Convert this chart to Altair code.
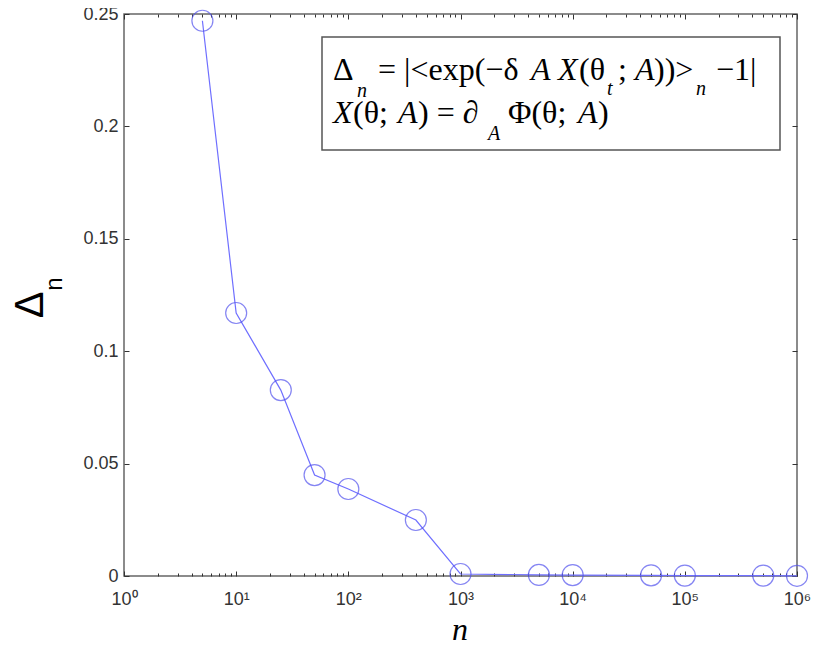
import altair as alt
import pandas as pd

# ---- data ----
n_values = [5, 10, 25, 50, 100, 400, 1000, 5000, 10000, 50000, 100000, 500000, 1000000]
delta_values = [0.247, 0.117, 0.0827, 0.0449, 0.0387, 0.0249, 0.0009,
                0.0005, 0.0004, 0.0003, 0.0002, 0.0002, 0.0001]

x_major = [1, 10, 100, 1000, 10000, 100000, 1000000]
x_major_labels = ["10⁰", "10¹", "10²", "10³", "10⁴", "10⁵", "10⁶"]
x_minor_mult = [2, 3, 4, 5, 6, 7, 8, 9]
y_ticks = [0, 0.05, 0.1, 0.15, 0.2, 0.25]

x_ticks = sorted(set(x_major + [m * d for d in x_major[:-1] for m in x_minor_mult]))

df = pd.DataFrame({"n": n_values, "delta": delta_values})
one = pd.DataFrame({"a": [0]})

W, H = 673, 562
OX, OY = 124, 14  # page position of plot origin

major_js = "[" + ",".join(str(v) for v in x_major) + "]"
labels_js = "[" + ",".join("'" + s + "'" for s in x_major_labels) + "]"
is_major = f"indexof({major_js}, datum.value) >= 0"
label_expr = f"{is_major} ? {labels_js}[indexof({major_js}, datum.value)] : ''"
minor_dash = alt.condition(is_major, alt.value([5, 0]), alt.value([0, 2, 3, 0]))

xscale = alt.Scale(type="log", domain=[1, 1000000], nice=False)
yscale = alt.Scale(domain=[0, 0.25], nice=False, zero=False)

tick_color = "#333"
lab_font = "Liberation Sans"

x_axis = alt.Axis(orient="bottom", values=x_ticks, labelExpr=label_expr, tickSize=5,
                  offset=-5, domain=False, grid=False, title=None, labelFont=lab_font,
                  labelFontSize=18, labelColor="#333", tickColor=tick_color,
                  tickWidth=1, tickDash=minor_dash, labelPadding=14,
                  labelFlush=False, labelOverlap=False)
y_axis = alt.Axis(orient="left", values=y_ticks, format="~g", tickSize=5, offset=-5,
                  domain=False, grid=False, title=None, labelFont=lab_font,
                  labelFontSize=18, labelColor="#333", tickColor=tick_color,
                  tickWidth=1, labelPadding=6, labelFlush=False)
x_axis_top = alt.Axis(orient="top", values=x_ticks, labels=False, tickSize=5,
                      offset=-5, domain=False, grid=False, title=None,
                      tickColor=tick_color, tickWidth=1, tickDash=minor_dash)
y_axis_right = alt.Axis(orient="right", values=y_ticks, labels=False, tickSize=5,
                        offset=-5, domain=False, grid=False, title=None,
                        tickColor=tick_color, tickWidth=1)

base = alt.Chart(df)
ghost = base.mark_point(opacity=0).encode(
    x=alt.X("n:Q", scale=xscale, axis=x_axis_top),
    y=alt.Y("delta:Q", scale=yscale, axis=y_axis_right),
)
line = base.mark_line(color="#6f6fff", strokeWidth=1.2).encode(
    x=alt.X("n:Q", scale=xscale, axis=x_axis),
    y=alt.Y("delta:Q", scale=yscale, axis=y_axis),
)
points = base.mark_point(shape="circle", filled=False, size=441, strokeWidth=1.2,
                         color="#5252ee").encode(
    x=alt.X("n:Q", scale=xscale, axis=None),
    y=alt.Y("delta:Q", scale=yscale, axis=None),
)


def txt(s, px, py, size, font="Liberation Serif", style="normal", angle=0,
        align="left"):
    return alt.Chart(one).mark_text(
        text=s, align=align, baseline="alphabetic", font=font, fontSize=size,
        fontStyle=style, angle=angle, color="black",
    ).encode(x=alt.value(px - OX), y=alt.value(py - OY))


box = alt.Chart(one).mark_rect(fill="white", stroke="#555", strokeWidth=1.5).encode(
    x=alt.value(322 - OX), x2=alt.value(780 - OX),
    y=alt.value(37 - OY), y2=alt.value(150 - OY),
)

F, S = 32, 20
legend_texts = [
    txt("Δ", 333, 80, F),
    txt("n", 357, 97, S, style="italic"),
    txt("= |<exp(−δ ", 378, 80, F),
    txt("A X", 531, 80, F, style="italic"),
    txt("(θ", 579, 80, F),
    txt("t", 607, 95, S, style="italic"),
    txt("; ", 618, 80, F),
    txt("A", 635, 80, F, style="italic"),
    txt("))>", 654, 80, F),
    txt("n", 696, 95, S, style="italic"),
    txt("−1|", 716, 80, F),
    txt("X", 333, 123, F, style="italic"),
    txt("(θ; ", 353, 123, F),
    txt("A", 398, 123, F, style="italic"),
    txt(") = ∂", 418, 123, F),
    txt("A", 488, 140, S, style="italic"),
    txt("Φ(θ; ", 508, 123, F),
    txt("A", 578, 123, F, style="italic"),
    txt(")", 598, 123, F),
]

axis_titles = [
    txt("Δ", 43, 305, 40, font="Liberation Sans", angle=270, align="center"),
    txt("n", 62, 284, 24, font="Liberation Sans", angle=270, align="center"),
    txt("n", 460, 640, 32, style="italic", align="center"),
]

chart = alt.layer(ghost, line, points, box, *legend_texts, *axis_titles).resolve_axis(
    x="independent", y="independent"
).properties(
    width=W, height=H,
    autosize=alt.AutoSizeParams(type="none"),
    padding={"left": OX - 8, "top": OY - 8, "right": 16, "bottom": 65},
    background="white",
).configure_view(stroke="#666", strokeWidth=1.5)

chart.save("out.html", embed_options={"renderer": "svg", "actions": False})
